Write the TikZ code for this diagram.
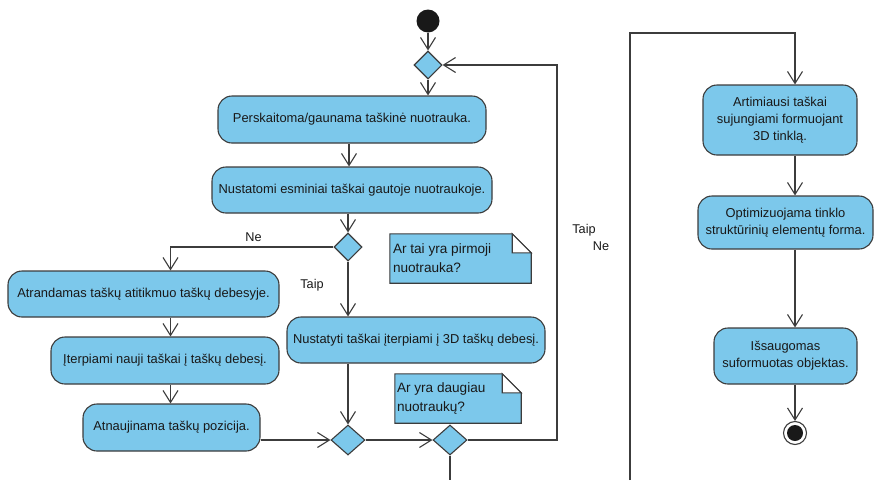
\documentclass[tikz,border=0pt]{standalone}
\usepackage{fontspec}
\setmainfont{Liberation Sans}
\usetikzlibrary{arrows.meta,shapes.geometric,calc}
\definecolor{actfill}{RGB}{124,200,235}
\definecolor{lnc}{RGB}{60,60,60}
\definecolor{txc}{RGB}{25,25,25}
\begin{document}
\begin{tikzpicture}[x=1pt,y=-1pt,
  act/.style={draw=lnc,line width=1.1pt,fill=actfill,rounded corners=14pt,inner sep=0pt,align=center,
    font=\fontsize{12.9}{17}\selectfont,text=txc},
  dec/.style={draw=lnc,line width=1.1pt,fill=actfill,diamond,inner sep=0pt,minimum width=28pt,minimum height=28pt},
  notebox/.style={draw=none,inner sep=0pt},
  notetext/.style={inner sep=0pt,align=left,font=\fontsize{13.6}{19}\selectfont,text=txc},
  lbl/.style={inner sep=0pt,font=\fontsize{12.7}{15}\selectfont,text=txc},
  ln/.style={draw=lnc,line width=1.1pt},
  arr/.style={draw=lnc,line width=1.1pt,-{Straight Barb[length=12pt,width=15pt]}}
]
\useasboundingbox (0,0) rectangle (874,480);
\fill[white] (0,0) rectangle (874,480);

% start and merge
\node[circle,fill=black!90,minimum size=23pt,inner sep=0pt] (start) at (428,21) {};
\node[dec] (d1) at (428,65) {};

% activities (left part)
\node[act,minimum width=268pt,minimum height=47pt] (p1) at (352,119.5) {Perskaitoma/gaunama taškinė nuotrauka.};
\node[act,minimum width=280pt,minimum height=46pt] (n1) at (352,190) {Nustatomi esminiai taškai gautoje nuotraukoje.};
\node[dec] (d2) at (348,247) {};
\node[act,minimum width=271pt,minimum height=46pt] (a1) at (143.5,294) {Atrandamas taškų atitikmuo taškų debesyje.};
\node[act,minimum width=228pt,minimum height=47pt] (i1) at (165,360.5) {Įterpiami nauji taškai į taškų debesį.};
\node[act,minimum width=177pt,minimum height=47pt] (a2) at (171.5,427.5) {Atnaujinama taškų pozicija.};
\node[act,minimum width=258pt,minimum height=46pt] (n2) at (416,340) {Nustatyti taškai įterpiami į 3D taškų debesį.};
\node[dec,minimum width=34pt,minimum height=30pt] (d3) at (348,440) {};
\node[dec,minimum width=34pt,minimum height=30pt] (d4) at (450,440) {};

% notes
\node[notebox,minimum width=141pt,minimum height=49pt] (nt1) at (460.5,258.5) {};
\fill[actfill] (nt1.north west) -- ([xshift=-19pt]nt1.north east) -- ([yshift=-19pt]nt1.north east)
  -- (nt1.south east) -- (nt1.south west) -- cycle;
\draw[ln,line join=miter] (nt1.north west) -- ([xshift=-19pt]nt1.north east) -- ([yshift=-19pt]nt1.north east)
  -- (nt1.south east) -- (nt1.south west) -- cycle;
\draw[ln,fill=white] ([xshift=-19pt]nt1.north east) -- ([xshift=-19pt,yshift=-19pt]nt1.north east) -- ([yshift=-19pt]nt1.north east) -- cycle;
\node[notetext,anchor=west] (nt1t) at ([xshift=3pt]nt1.west) {Ar tai yra pirmoji\\nuotrauka?};

\node[notebox,minimum width=126pt,minimum height=49pt] (nt2) at (458,398.5) {};
\fill[actfill] (nt2.north west) -- ([xshift=-19pt]nt2.north east) -- ([yshift=-19pt]nt2.north east)
  -- (nt2.south east) -- (nt2.south west) -- cycle;
\draw[ln,line join=miter] (nt2.north west) -- ([xshift=-19pt]nt2.north east) -- ([yshift=-19pt]nt2.north east)
  -- (nt2.south east) -- (nt2.south west) -- cycle;
\draw[ln,fill=white] ([xshift=-19pt]nt2.north east) -- ([xshift=-19pt,yshift=-19pt]nt2.north east) -- ([yshift=-19pt]nt2.north east) -- cycle;
\node[notetext,anchor=west] (nt2t) at ([xshift=2pt]nt2.west) {Ar yra daugiau\\nuotraukų?};

% right column
\node[act,minimum width=154pt,minimum height=70pt] (r1) at (780,120) {Artimiausi taškai\\sujungiami formuojant\\3D tinklą.};
\node[act,minimum width=175pt,minimum height=53pt] (r2) at (785.5,222.5) {Optimizuojama tinklo\\struktūrinių elementų forma.};
\node[act,minimum width=143pt,minimum height=56pt] (r3) at (785.5,356) {Išsaugomas\\suformuotas objektas.};
\node[circle,draw=lnc,line width=1.1pt,fill=white,minimum size=23pt,inner sep=0pt] (fin) at (795,433) {};
\fill[black!90] (fin.center) circle (8pt);

% labels
\node[lbl] (lne1) at (253.5,237) {Ne};
\node[lbl] (ltaip1) at (312,285) {Taip};
\node[lbl] (ltaip2) at (584,230) {Taip};
\node[lbl] (lne2) at (601,246) {Ne};

% helper coordinates
\coordinate (lcol) at (170.5,0);
\coordinate (rcol) at (795,0);
\coordinate (loopc) at (557,440);
\coordinate (d4out) at (450,480);
\coordinate (rin) at (630,480);
\coordinate (rtop) at (630,33);

% connectors
\draw[arr] (start.south) -- (d1.north);
\draw[arr] (d1.south) -- (d1.south |- p1.north);
\draw[arr] ([xshift=-3pt]p1.south) -- ([xshift=-3pt]p1.south |- n1.north);
\draw[arr] (d2.north |- n1.south) -- (d2.north);
\draw[arr] (d2.west) -| (lcol |- a1.north);
\draw[arr] (lcol |- a1.south) -- (lcol |- i1.north);
\draw[arr] (lcol |- i1.south) -- (lcol |- a2.north);
\draw[arr] (d2.south) -- (d2.south |- n2.north);
\draw[arr] (a2.east |- d3.west) -- (d3.west);
\draw[arr] (d3.north |- n2.south) -- (d3.north);
\draw[arr] (d3.east) -- (d4.west);
\draw[arr] (d4.east) -- (loopc) |- (d1.east);
\draw[ln] (d4.south) -- (d4out);
\draw[arr] (rin) -- (rtop) -| (rcol |- r1.north);
\draw[arr] (rcol |- r1.south) -- (rcol |- r2.north);
\draw[arr] (rcol |- r2.south) -- (rcol |- r3.north);
\draw[arr] (rcol |- r3.south) -- (fin.north);
\end{tikzpicture}
\end{document}
